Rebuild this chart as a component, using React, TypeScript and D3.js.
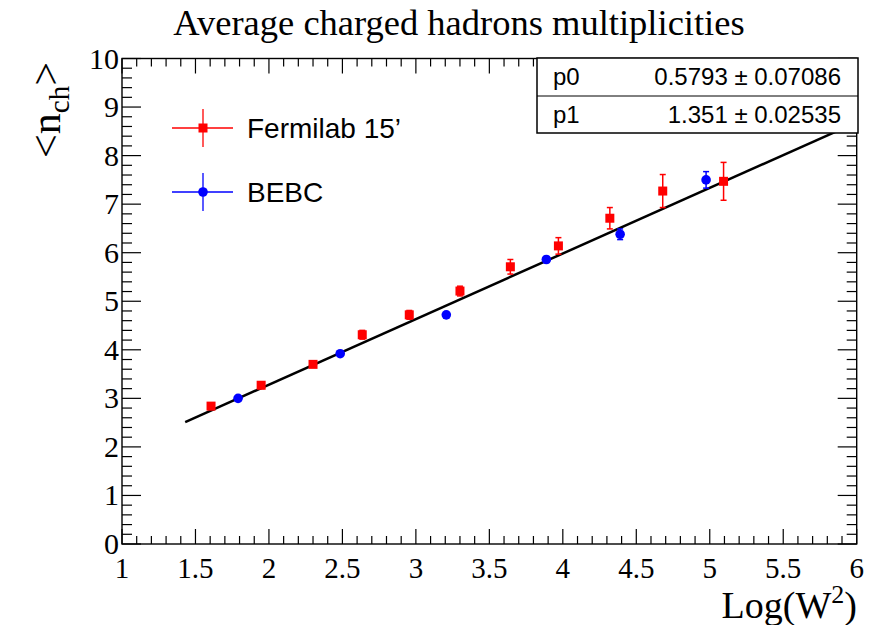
import React from "react";
import * as d3 from "d3";

const fermiX = [1.606, 1.947, 2.30, 2.635, 2.955, 3.30, 3.643, 3.97, 4.32, 4.68, 5.094];
const fermiY = [2.84, 3.27, 3.70, 4.31, 4.72, 5.21, 5.71, 6.14, 6.71, 7.27, 7.47];
const fermiErr = [0.07, 0.07, 0.06, 0.09, 0.09, 0.1, 0.15, 0.17, 0.22, 0.34, 0.39];
const bebcX = [1.79, 2.485, 3.207, 3.888, 4.39, 4.975];
const bebcY = [3.0, 3.92, 4.72, 5.86, 6.38, 7.5];
const bebcErr = [0.04, 0.04, 0.05, 0.06, 0.11, 0.17];
const fitP0 = 0.5793;
const fitP1 = 1.351;
const fitRange = [1.43, 5.95];
const xTicks = [1, 1.5, 2, 2.5, 3, 3.5, 4, 4.5, 5, 5.5, 6];
const yTicks = [0, 1, 2, 3, 4, 5, 6, 7, 8, 9, 10];
const statNames = ["p0", "p1"];
const statValues = ["0.5793 \u00b1 0.07086", "1.351 \u00b1 0.02535"];
const legendLabels = ["Fermilab 15\u2019", "BEBC"];

const L = 122, R = 856.7, T = 58.5, B = 544;
const serif = "'Liberation Serif', 'Times New Roman', serif";
const sans = "'Liberation Sans', Arial, sans-serif";

export default function App() {
  const x = d3.scaleLinear().domain([1, 6]).range([L, R]);
  const y = d3.scaleLinear().domain([0, 10]).range([B, T]);
  const xMinor = d3.range(1, 6.0001, 0.1);
  const yMinor = d3.range(0, 10.0001, 0.2);
  const line = d3.line<number>().x(v => x(v)).y(v => y(fitP0 + fitP1 * v));
  const red = "#ff0000";
  const blue = "#0000ff";
  const cap = 3;

  return (
    <svg width={876} height={625} style={{ position: "absolute", left: 0, top: 0, background: "#fff" }}>
      <rect x={0} y={0} width={876} height={625} fill="#fff" />
      <text x={459} y={35} textAnchor="middle" fontFamily={serif} fontSize={36.5} fill="#000">
        Average charged hadrons multiplicities
      </text>

      {/* frame */}
      <rect x={L} y={T} width={R - L} height={B - T} fill="none" stroke="#000" strokeWidth={1.4} />

      {/* x ticks */}
      {xMinor.map((v, i) => {
        const major = i % 5 === 0;
        const len = major ? 15 : 8;
        return (
          <g key={"xt" + i}>
            <line x1={x(v)} x2={x(v)} y1={B} y2={B - len} stroke="#000" strokeWidth={1.2} />
            <line x1={x(v)} x2={x(v)} y1={T} y2={T + len} stroke="#000" strokeWidth={1.2} />
          </g>
        );
      })}
      {yMinor.map((v, i) => {
        const major = i % 5 === 0;
        const len = major ? 19 : 10;
        return (
          <g key={"yt" + i}>
            <line x1={L} x2={L + len} y1={y(v)} y2={y(v)} stroke="#000" strokeWidth={1.2} />
            <line x1={R} x2={R - len} y1={y(v)} y2={y(v)} stroke="#000" strokeWidth={1.2} />
          </g>
        );
      })}
      {xTicks.map(v => (
        <text key={"xl" + v} x={x(v)} y={B + 34} textAnchor="middle" fontFamily={serif} fontSize={29} fill="#000">
          {String(v)}
        </text>
      ))}
      {yTicks.map(v => (
        <text key={"yl" + v} x={L - 3} y={y(v) + 10} textAnchor="end" fontFamily={serif} fontSize={30} fill="#000">
          {String(v)}
        </text>
      ))}

      {/* axis titles */}
      <text x={857} y={618} textAnchor="end" fontFamily={serif} fontSize={38} fill="#000">
        Log(W<tspan dy={-15} fontSize={26}>2</tspan><tspan dy={15}>)</tspan>
      </text>
      <text transform="translate(60,110) rotate(-90)" textAnchor="middle" fontFamily={serif} fontSize={42} fill="#000">
        &lt;n<tspan dy={9} fontSize={29}>ch</tspan><tspan dy={-9}>&gt;</tspan>
      </text>

      {/* fit line */}
      <path d={line(fitRange) || ""} stroke="#000" strokeWidth={2.5} fill="none" />

      {/* Fermilab points */}
      {fermiX.map((v, i) => (
        <g key={"f" + i}>
          <line x1={x(v)} x2={x(v)} y1={y(fermiY[i] - fermiErr[i])} y2={y(fermiY[i] + fermiErr[i])} stroke={red} strokeWidth={1.5} />
          <line x1={x(v) - cap} x2={x(v) + cap} y1={y(fermiY[i] - fermiErr[i])} y2={y(fermiY[i] - fermiErr[i])} stroke={red} strokeWidth={1.5} />
          <line x1={x(v) - cap} x2={x(v) + cap} y1={y(fermiY[i] + fermiErr[i])} y2={y(fermiY[i] + fermiErr[i])} stroke={red} strokeWidth={1.5} />
          <rect x={x(v) - 4.5} y={y(fermiY[i]) - 4.5} width={9} height={9} fill={red} />
        </g>
      ))}
      {/* BEBC points */}
      {bebcX.map((v, i) => (
        <g key={"b" + i}>
          <line x1={x(v)} x2={x(v)} y1={y(bebcY[i] - bebcErr[i])} y2={y(bebcY[i] + bebcErr[i])} stroke={blue} strokeWidth={1.5} />
          <line x1={x(v) - cap} x2={x(v) + cap} y1={y(bebcY[i] - bebcErr[i])} y2={y(bebcY[i] - bebcErr[i])} stroke={blue} strokeWidth={1.5} />
          <line x1={x(v) - cap} x2={x(v) + cap} y1={y(bebcY[i] + bebcErr[i])} y2={y(bebcY[i] + bebcErr[i])} stroke={blue} strokeWidth={1.5} />
          <circle cx={x(v)} cy={y(bebcY[i])} r={4.8} fill={blue} />
        </g>
      ))}

      {/* legend */}
      {legendLabels.map((lab, i) => {
        const cy = 128 + i * 64;
        const c = i === 0 ? red : blue;
        return (
          <g key={"lg" + i}>
            <line x1={172} x2={233} y1={cy} y2={cy} stroke={c} strokeWidth={1.3} />
            <line x1={203} x2={203} y1={cy - 19} y2={cy + 19} stroke={c} strokeWidth={1.3} />
            {i === 0 ? (
              <rect x={198.5} y={cy - 4.5} width={9} height={9} fill={c} />
            ) : (
              <circle cx={203} cy={cy} r={4.8} fill={c} />
            )}
            <text x={247} y={cy + 10} fontFamily={sans} fontSize={28} fill="#000">{lab}</text>
          </g>
        );
      })}

      {/* stats box */}
      <rect x={537} y={58} width={321} height={75} fill="#fff" stroke="#000" strokeWidth={1.5} />
      <line x1={537} x2={858} y1={96} y2={96} stroke="#000" strokeWidth={1} />
      {statNames.map((n, i) => (
        <g key={"s" + i}>
          <text x={553} y={85 + i * 38} fontFamily={sans} fontSize={24} fill="#000">{n}</text>
          <text x={841} y={85 + i * 38} textAnchor="end" fontFamily={sans} fontSize={24} fill="#000">{statValues[i]}</text>
        </g>
      ))}
    </svg>
  );
}
